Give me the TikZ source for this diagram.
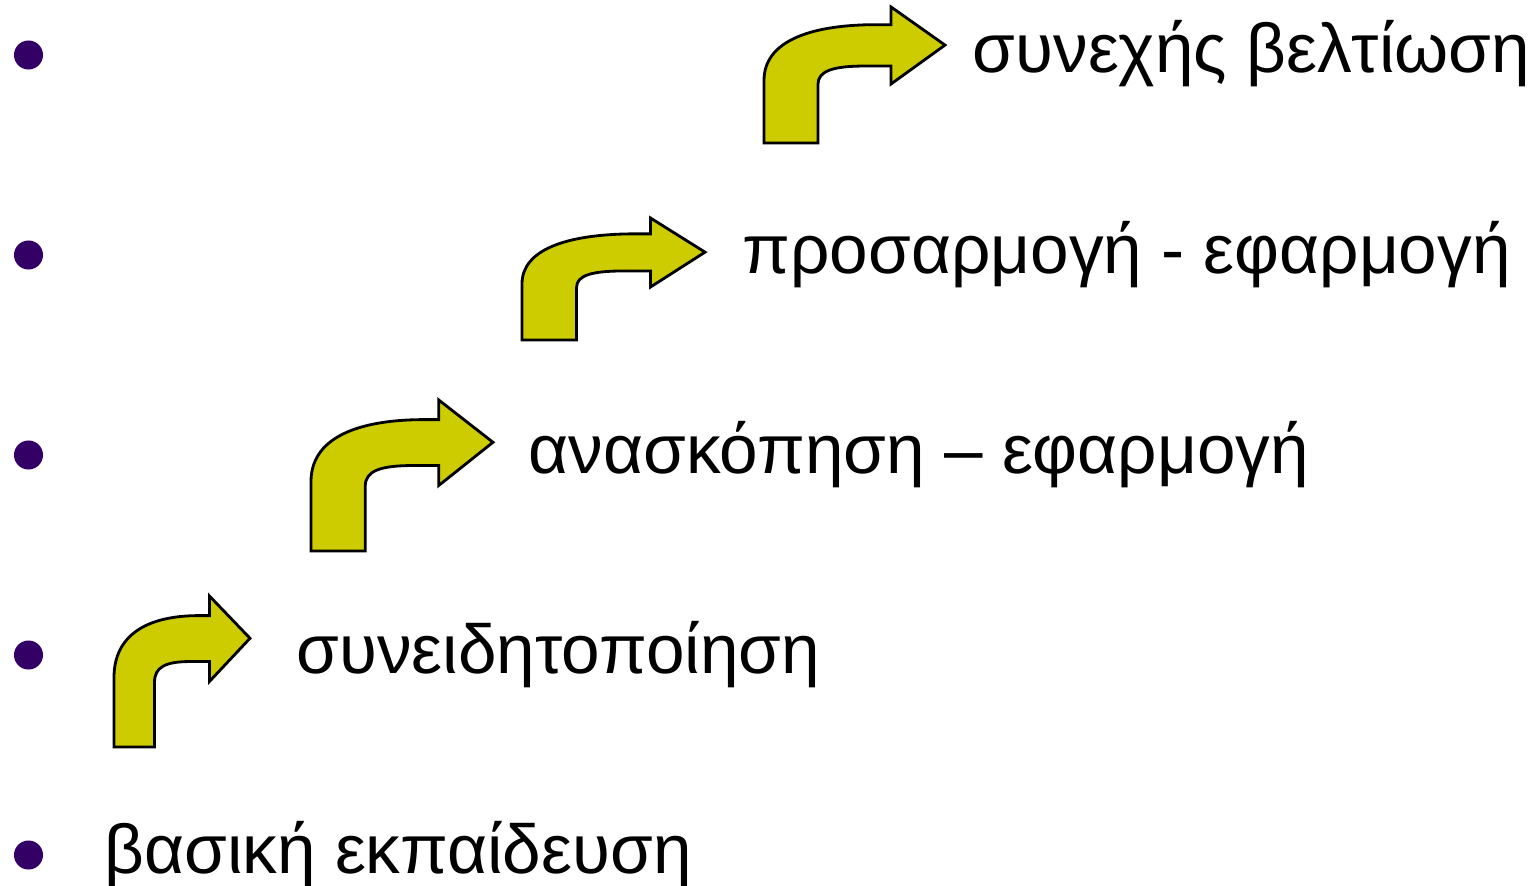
\documentclass[tikz,border=0pt]{standalone}
\usepackage{fontspec}
\setmainfont{Liberation Sans}
\usepackage{tikz}
\definecolor{stepyellow}{HTML}{CCCC00}
\definecolor{bulletpurple}{HTML}{330066}
\tikzset{
  turnarrow/.style={fill=stepyellow,draw=black,line width=0.8pt,line join=miter},
  steplabel/.style={anchor=base west,inner sep=0pt,font=\fontsize{19.7}{24}\selectfont}
}
\newcommand\turnarrowat[4]{%
  \begin{scope}[shift={(#1,#2)},x=#3*0.01cm,y=-#4*0.01cm]
    \filldraw[turnarrow] (0,1) -- (0,0.54)
      .. controls (0,0.26) and (0.24,0.135) .. (0.6,0.13)
      -- (0.702,0.13) -- (0.702,0) -- (1,0.28) -- (0.702,0.566) -- (0.702,0.434)
      -- (0.56,0.434) .. controls (0.38,0.434) and (0.298,0.47) .. (0.298,0.57)
      -- (0.298,1) -- cycle;
  \end{scope}}

\begin{document}
\begin{tikzpicture}[x=0.01cm,y=-0.01cm]
  \useasboundingbox (0,0) rectangle (1534,885);
  \foreach \y in {55,255,455,655,855}
    \fill[bulletpurple] (28.5,\y) circle[radius=0.145cm];
  \turnarrowat{114}{596}{136}{151}
  \turnarrowat{311}{400}{182}{151}
  \turnarrowat{522}{218}{183}{122}
  \turnarrowat{764}{7}{181}{136}
  \node[steplabel] (basic) at (104,873) {βασική εκπαίδευση};
  \node[steplabel] (aware) at (296,673) {συνειδητοποίηση};
  \node[steplabel] (review) at (528,473) {ανασκόπηση – εφαρμογή};
  \node[steplabel] (adapt) at (742,273) {προσαρμογή - εφαρμογή};
  \node[steplabel] (improve) at (972,73) {συνεχής βελτίωση};
\end{tikzpicture}
\end{document}
